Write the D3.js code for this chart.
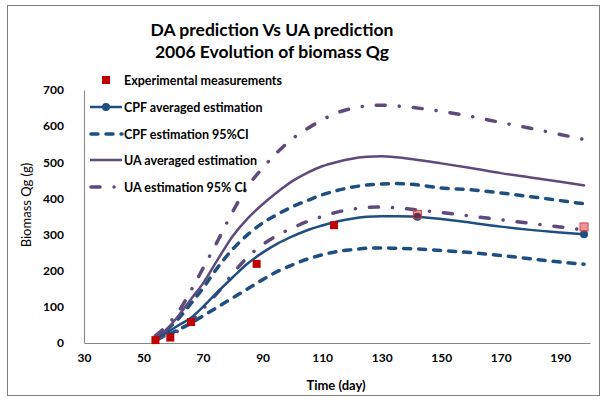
<!DOCTYPE html>
<html><head><meta charset="utf-8">
<script src="https://cdn.jsdelivr.net/npm/d3@7"></script>
<style>body{margin:0;background:#fff}svg{display:block}text{font-family:Lato,"Open Sans",sans-serif}</style>
</head><body><svg id="c" width="603" height="402"></svg>
<script>
const days = [54,58,62,66,70,75,80,85,90,95,100,105,110,115,120,125,130,135,140,150,160,170,180,190,198];
const cpfAvg   = [10,30,50,70,100,142,182,220,250,275,295,312,325,336,344,349,351,351,350,343,333,322,313,306,301];
const cpfUpper = [12,38,70,110,152,210,260,300,332,356,377,394,410,422,431,437,440,441,439,429,424,415,405,394,385];
const cpfLower = [8,22,38,55,75,100,125,150,175,198,216,232,244,253,258,262,263,262,261,256,250,242,233,224,218];
const uaAvg    = [15,40,78,122,165,232,296,345,384,418,448,471,489,501,510,515,517,514,509,497,484,470,458,446,436];
const uaUpper  = [20,50,90,146,207,284,364,433,484,528,565,593,617,637,649,656,658,656,652,641,627,610,594,577,563];
const uaLower  = [12,22,35,60,95,140,192,238,272,298,318,336,350,362,370,375,376,374,370,361,351,341,331,321,313];
const expDays  = [54,59,66,88,114,142,198];
const expVals  = [8,15,58,219,326,356,321];
const cpfMarkerDays = [142,198];
const cpfMarkerVals = [349,301];
const xTicks = [30,50,70,90,110,130,150,170,190];
const yTicks = [0,100,200,300,400,500,600,700];
const titleLines = ["DA prediction Vs UA prediction","2006 Evolution of biomass Qg"];
const legendLabels = ["Experimental measurements","CPF averaged estimation","CPF estimation 95%CI","UA averaged estimation","UA estimation 95% CI"];

const BLUE="#1f4e80", PURPLE="#5f4a7e", RED="#c00000";
const svg=d3.select("#c");
svg.append("rect").attr("x",7.5).attr("y",5.5).attr("width",592).attr("height",390)
  .attr("fill","#fff").attr("stroke","#7f7f7f").attr("stroke-width",1);

const x=d3.scaleLinear().domain([30,200]).range([84,590]);
const y=d3.scaleLinear().domain([0,700]).range([343,90]);

// titles
titleLines.forEach((t,i)=>svg.append("text").attr("x",272).attr("y",36+i*22)
  .attr("text-anchor","middle").attr("font-size",17.5).attr("font-weight","bold").attr("fill","#000").text(t));

// axes
const ya=svg.append("g").attr("transform","translate(84,0)")
  .call(d3.axisLeft(y).tickValues(yTicks).tickSize(0).tickPadding(20));
ya.select(".domain").attr("stroke","#868686");
ya.selectAll("text").attr("font-size",12).attr("font-weight","bold").attr("font-family","Lato").attr("fill","#000");
const xa=svg.append("g").attr("transform","translate(0,343)")
  .call(d3.axisBottom(x).tickValues(xTicks).tickSize(0).tickPadding(10));
xa.select(".domain").attr("stroke","#868686");
xa.selectAll("text").attr("font-size",12).attr("font-weight","bold").attr("font-family","Lato").attr("fill","#000");

svg.append("text").attr("x",336).attr("y",390).attr("text-anchor","middle")
  .attr("font-size",13).attr("font-weight","bold").text("Time (day)");
svg.append("text").attr("transform","translate(31,205) rotate(-90)").attr("text-anchor","middle")
  .attr("font-size",13).text("Biomass Qg (g)");

const line=d3.line().x(d=>x(d[0])).y(d=>y(d[1])).curve(d3.curveMonotoneX);
const DASH="7,8", DASHDOT="9,14,0.1,14";
const series=[
  {v:cpfLower,c:BLUE,w:3.5,d:DASH},
  {v:cpfUpper,c:BLUE,w:3.5,d:DASH},
  {v:uaLower,c:PURPLE,w:3.5,d:DASHDOT},
  {v:uaUpper,c:PURPLE,w:3.5,d:DASHDOT},
  {v:uaAvg,c:PURPLE,w:2.5,d:null},
  {v:cpfAvg,c:BLUE,w:2.5,d:null}
];
series.forEach(s=>{
  svg.append("path").datum(days.map((d,i)=>[d,s.v[i]])).attr("d",line)
    .attr("fill","none").attr("stroke",s.c).attr("stroke-width",s.w)
    .attr("stroke-linecap","round").attr("stroke-dasharray",s.d);
});
svg.selectAll("circle.m").data(cpfMarkerDays.map((d,i)=>[d,cpfMarkerVals[i]])).enter()
  .append("circle").attr("cx",d=>x(d[0])).attr("cy",d=>y(d[1])).attr("r",4).attr("fill",BLUE);
svg.selectAll("rect.e").data(expDays.map((d,i)=>[d,expVals[i]])).enter()
  .append("rect").attr("x",d=>x(d[0])-4).attr("y",d=>y(d[1])-4).attr("width",8).attr("height",8)
  .attr("fill",(d,i)=>i>=5?"rgba(200,0,0,0.4)":RED)
  .attr("stroke",(d,i)=>i>=5?"#d04040":"none").attr("stroke-width",1);

// legend
const ly=[80,107,134,160,187];
const lg=svg.append("g");
legendLabels.forEach((t,i)=>lg.append("text").attr("x",124).attr("y",ly[i]+4.5)
  .attr("font-size",12.5).attr("font-weight","bold").text(t));
lg.append("rect").attr("x",102).attr("y",ly[0]-4).attr("width",8).attr("height",8).attr("fill",RED);
lg.append("line").attr("x1",90).attr("x2",122).attr("y1",ly[1]).attr("y2",ly[1]).attr("stroke",BLUE).attr("stroke-width",2.5);
lg.append("circle").attr("cx",106).attr("cy",ly[1]).attr("r",4).attr("fill",BLUE);
lg.append("line").attr("x1",91).attr("x2",122).attr("y1",ly[2]).attr("y2",ly[2]).attr("stroke",BLUE).attr("stroke-width",3.5)
  .attr("stroke-linecap","round").attr("stroke-dasharray",DASH);
lg.append("line").attr("x1",90).attr("x2",122).attr("y1",ly[3]).attr("y2",ly[3]).attr("stroke",PURPLE).attr("stroke-width",2.5);
lg.append("line").attr("x1",91).attr("x2",122).attr("y1",ly[4]).attr("y2",ly[4]).attr("stroke",PURPLE).attr("stroke-width",3.5)
  .attr("stroke-linecap","round").attr("stroke-dasharray",DASHDOT);
</script></body></html>
